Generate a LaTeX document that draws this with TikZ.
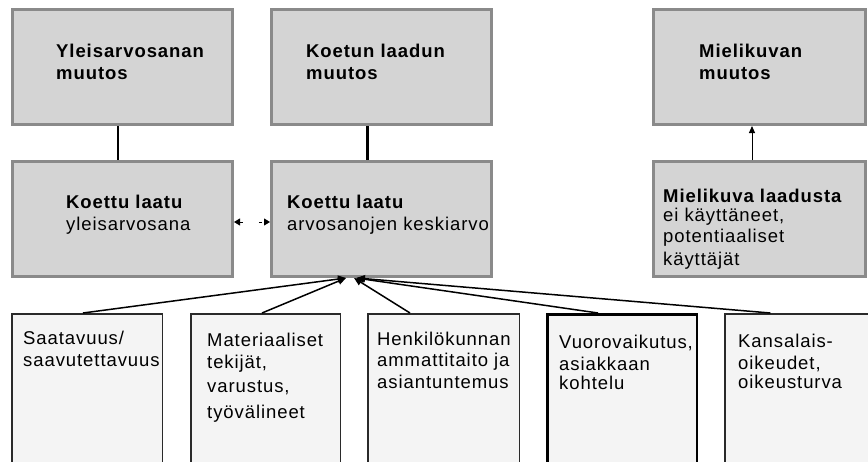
\documentclass[tikz,border=0pt]{standalone}
\usepackage{fontspec}
\setmainfont{Liberation Sans}[LetterSpace=5]
\usetikzlibrary{arrows.meta,fit}
\definecolor{boxfill}{HTML}{D4D4D4}
\definecolor{boxline}{HTML}{8A8A8A}
\definecolor{lowfill}{HTML}{F4F4F4}
\definecolor{lowline}{HTML}{2A2A2A}
\begin{document}
\begin{tikzpicture}[x=1pt,y=-1pt,
  graybox/.style={draw=boxline, fill=boxfill, line width=3pt, inner sep=0pt, rectangle},
  lowbox/.style={draw=lowline, fill=lowfill, line width=1.5pt, inner sep=0pt, rectangle},
  txt/.style={anchor=base west, inner sep=0pt, align=left, font=\fontsize{18.5}{21.5}\selectfont},
  conn/.style={line width=2.2pt, black},
  lowconn/.style={line width=1.5pt, black, -{Triangle[length=8pt,width=7pt]}},
]
\useasboundingbox (0,0) rectangle (868,461);
\clip (0,0) rectangle (868,461);
\fill[white] (0,0) rectangle (868,461);

% top row
\node[graybox, fit={(12.5,9.5)(232.5,124.5)}] (top1) {};
\node[graybox, fit={(271.5,9.5)(491.5,124.5)}] (top2) {};
\node[graybox, fit={(653.5,9.5)(865.5,124.5)}] (top3) {};
% middle row
\node[graybox, fit={(12.5,161.5)(232.5,276.5)}] (mid1) {};
\node[graybox, fit={(271.5,161.5)(491.5,276.5)}] (mid2) {};
\node[graybox, fit={(653.5,161.5)(865.5,276.5)}] (mid3) {};
% bottom row
\node[lowbox, fit={(11.75,313.75)(162.25,480)}] (b1) {};
\node[lowbox, fit={(190.75,313.75)(340.25,480)}] (b2) {};
\node[lowbox, fit={(367.75,313.75)(519.25,480)}] (b3) {};
\node[lowbox, line width=2.5pt, draw=black, fit={(547.25,314.25)(696.75,480)}] (b4) {};
\node[lowbox, fit={(724.75,313.75)(880,480)}] (b5) {};

% texts (anchor = baseline of the last line)
\node[txt] (t1) at (56,79) {\textbf{Yleisarvosanan}\\\textbf{muutos}};
\node[txt] (t2) at (306,79) {\textbf{Koetun laadun}\\\textbf{muutos}};
\node[txt] (t3) at (699,79) {\textbf{Mielikuvan}\\\textbf{muutos}};
\node[txt] (m1) at (66,230) {\textbf{Koettu laatu}\\yleisarvosana};
\node[txt] (m2) at (287,230) {\textbf{Koettu laatu}\\arvosanojen keskiarvo};
\node[txt] (m3) at (663,265) {\textbf{Mielikuva laadusta}\\[-3pt]ei käyttäneet,\\potentiaaliset\\[1pt]käyttäjät};
\node[txt] (l1) at (23,366) {Saatavuus/\\saavutettavuus};
\node[txt] (l2) at (207,418) {Materiaaliset\\tekijät,\\[3pt]varustus,\\[4pt]työvälineet};
\node[txt] (l3) at (377,388) {Henkilökunnan\\ammattitaito ja\\asiantuntemus};
\node[txt] (l4) at (559,389) {Vuorovaikutus,\\[1pt]asiakkaan\\[-3pt]kohtelu};
\node[txt] (l5) at (738,388) {Kansalais-\\[1pt]oikeudet,\\[-3pt]oikeusturva};

% connectors
\draw[conn] ([xshift=-4.5pt]top1.south) -- ([xshift=-4.5pt]mid1.north);
\draw[conn] ([xshift=-14pt]top2.south) -- ([xshift=-14pt]mid2.north);
\draw[line width=1pt, -{Triangle[length=7pt,width=6pt]}] ([xshift=-7.5pt]mid3.north) -- ([xshift=-7.5pt]top3.south);
\draw[line width=1pt, dash pattern=on 3pt off 16pt,
  {Triangle[length=6pt,width=7pt]}-{Triangle[length=6pt,width=7pt]}]
  ([yshift=-3pt]mid1.east) -- ([yshift=-3pt]mid2.west);

\draw[lowconn] ([xshift=-4pt]b1.north) -- ([xshift=-35.5pt]mid2.south);
\draw[lowconn] ([xshift=-3.5pt]b2.north) -- ([xshift=-35.5pt]mid2.south);
\draw[lowconn] ([xshift=-33.5pt]b3.north) -- ([xshift=-27.5pt]mid2.south);
\draw[lowconn] ([xshift=-24pt]b4.north) -- ([xshift=-25.5pt]mid2.south);
\draw[lowconn] ([xshift=-32pt]b5.north) -- ([xshift=-24.5pt]mid2.south);
\end{tikzpicture}
\end{document}
